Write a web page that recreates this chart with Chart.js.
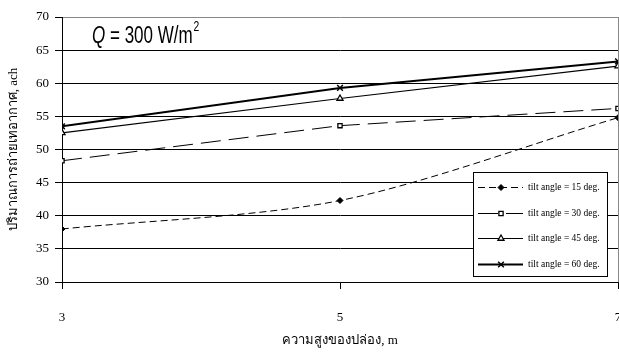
<!DOCTYPE html>
<html>
<head>
<meta charset="utf-8">
<script src="https://cdn.jsdelivr.net/npm/chart.js@4"></script>
<style>
  html, body { margin: 0; padding: 0; background: #fff; }
  #wrap { width: 619px; height: 354px; position: relative; }
</style>
</head>
<body>
<div id="wrap"><canvas id="c" width="619" height="354"></canvas></div>
<script>
// Stack height (m) on the x axis
const heights = [3, 5, 7];
// Air change rate (ach) for each tilt angle
const tilt15 = [38.0, 42.3, 54.8];
const tilt30 = [48.3, 53.6, 56.2];
const tilt45 = [52.5, 57.7, 62.6];
const tilt60 = [53.5, 59.3, 63.3];
const seriesLabels = ['tilt angle = 15 deg.', 'tilt angle = 30 deg.', 'tilt angle = 45 deg.', 'tilt angle = 60 deg.'];
const yTicks = [30, 35, 40, 45, 50, 55, 60, 65, 70];
const xTicks = [3, 5, 7];

const serif = "'Liberation Serif', 'Times New Roman', serif";
const sans = "'Liberation Sans', Arial, sans-serif";

function pts(vals) { return heights.map((h, i) => ({ x: h, y: vals[i] })); }

const datasets = [
  { label: seriesLabels[0], data: pts(tilt15), borderColor: '#000', borderWidth: 1, borderDash: [7, 4], tension: 0.3,
    pointStyle: 'rectRot', pointRadius: 3, pointBackgroundColor: '#000', pointBorderColor: '#000', pointBorderWidth: 1 },
  { label: seriesLabels[1], data: pts(tilt30), borderColor: '#000', borderWidth: 1, borderDash: [20, 8], tension: 0,
    pointStyle: 'rect', pointRadius: 3, pointBackgroundColor: '#fff', pointBorderColor: '#000', pointBorderWidth: 1.3 },
  { label: seriesLabels[2], data: pts(tilt45), borderColor: '#000', borderWidth: 1.2, tension: 0,
    pointStyle: 'triangle', pointRadius: 3.5, pointBackgroundColor: '#fff', pointBorderColor: '#000', pointBorderWidth: 1.3 },
  { label: seriesLabels[3], data: pts(tilt60), borderColor: '#000', borderWidth: 2, tension: 0,
    pointStyle: 'crossRot', pointRadius: 4, pointBackgroundColor: '#000', pointBorderColor: '#000', pointBorderWidth: 1.5 }
];

// Legend box and the Q annotation drawn inside the plot area
const boxPlugin = {
  id: 'boxLegend',
  afterDatasetsDraw(chart) {
    const ctx = chart.ctx;
    ctx.save();
    // annotation, set in a condensed face
    ctx.save();
    ctx.translate(92, 43);
    ctx.scale(0.74, 1);
    ctx.fillStyle = '#000';
    ctx.textBaseline = 'alphabetic';
    let x = 0;
    ctx.font = "italic 23px " + sans;
    ctx.fillText('Q', x, 0);
    x += ctx.measureText('Q').width;
    ctx.font = "23px " + sans;
    const main = ' = 300 W/m';
    ctx.fillText(main, x, 0);
    x += ctx.measureText(main).width;
    ctx.font = "14px " + sans;
    ctx.fillText('2', x + 1, -12);
    ctx.restore();

    // legend
    const bx = 473.5, by = 172.5, bw = 134, bh = 104;
    ctx.fillStyle = '#fff';
    ctx.fillRect(bx, by, bw, bh);
    ctx.strokeStyle = '#000';
    ctx.lineWidth = 1;
    ctx.setLineDash([]);
    ctx.strokeRect(bx, by, bw, bh);
    const rows = [187, 213, 238, 264];
    chart.data.datasets.forEach((ds, i) => {
      const ry = rows[i] + 0.5;
      ctx.strokeStyle = ds.borderColor;
      ctx.lineWidth = ds.borderWidth;
      ctx.setLineDash(ds.borderDash || []);
      ctx.beginPath();
      ctx.moveTo(478, ry);
      ctx.lineTo(523, ry);
      ctx.stroke();
      ctx.setLineDash([]);
      ctx.lineWidth = ds.pointBorderWidth;
      ctx.fillStyle = ds.pointBackgroundColor;
      ctx.strokeStyle = ds.pointBorderColor;
      Chart.helpers.drawPoint(ctx, { pointStyle: ds.pointStyle, radius: ds.pointRadius, rotation: 0, borderWidth: ds.pointBorderWidth }, 501, ry);
      ctx.fillStyle = '#000';
      ctx.font = "9.5px " + serif;
      ctx.textBaseline = 'middle';
      ctx.fillText(ds.label, 528, ry);
    });
    ctx.restore();
  }
};

new Chart(document.getElementById('c'), {
  type: 'line',
  data: { datasets },
  options: {
    responsive: false,
    animation: false,
    devicePixelRatio: 1,
    layout: { autoPadding: false, padding: { top: 17, right: 1, left: 0, bottom: 0 } },
    plugins: { legend: { display: false }, tooltip: { enabled: false } },
    scales: {
      x: {
        type: 'linear',
        min: 3, max: 7,
        afterFit(s) { s.height = 72; s.paddingLeft = 0; s.paddingRight = 0; },
        afterBuildTicks(s) { s.ticks = xTicks.map(v => ({ value: v })); },
        ticks: { color: '#000', font: { family: serif, size: 13 }, padding: 21, maxRotation: 0 },
        grid: {
          drawOnChartArea: true,
          color: c => (c.tick && c.tick.value === 7 ? '#888' : 'rgba(0,0,0,0)'),
          tickColor: '#000', tickLength: 7, lineWidth: 1
        },
        border: { color: '#000', width: 1 },
        title: { display: true, text: 'ความสูงของปล่อง, m', color: '#000', font: { family: serif, size: 13 }, padding: { top: 0, bottom: 6 } }
      },
      y: {
        min: 30, max: 70,
        afterFit(s) { s.width = 62; s.paddingTop = 0; s.paddingBottom = 0; },
        afterBuildTicks(s) { s.ticks = yTicks.map(v => ({ value: v })); },
        ticks: { color: '#000', font: { family: serif, size: 13 }, padding: 6 },
        grid: {
          color: c => (c.tick && c.tick.value === 70 ? '#888' : '#000'),
          tickColor: '#000', tickLength: 7, lineWidth: 1
        },
        border: { color: '#000', width: 1 },
        title: { display: true, text: 'ปริมาณการถ่ายเทอากาศ, ach', color: '#000', font: { family: serif, size: 13 }, padding: { top: 6, bottom: 0 } }
      }
    }
  },
  plugins: [boxPlugin]
});
</script>
</body>
</html>
